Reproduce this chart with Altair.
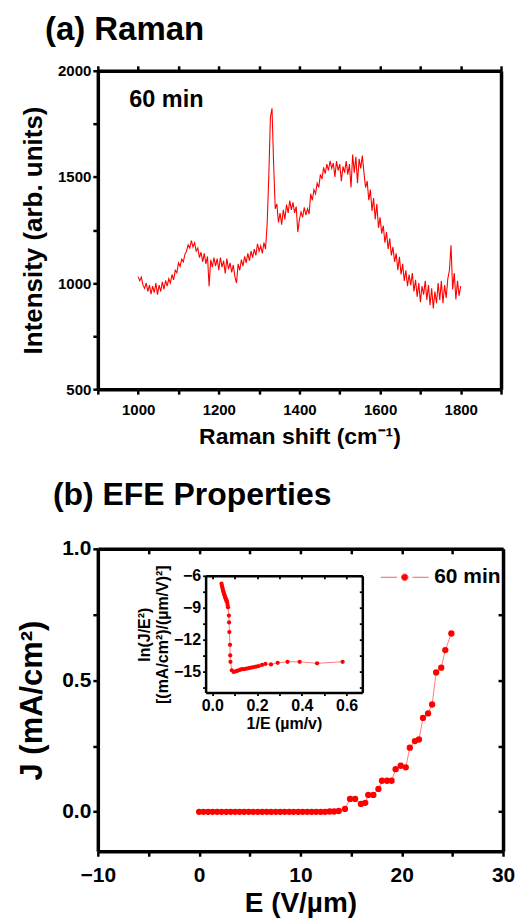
import altair as alt
import pandas as pd

FONT = "Liberation Sans"
RED = "#ff0000"
PINK = "#ff5a5a"

# ---------------- data: panel (a) Raman ----------------
raman_shift = list(range(1000, 1801, 4))
raman_intensity = [
    1030, 1010, 1028, 990, 975, 1000, 960, 990, 948, 985,
    955, 1000, 945, 990, 960, 1005, 970, 1012, 985, 1020,
    1000, 1040, 1015, 1060, 1048, 1095, 1078, 1112, 1100, 1135,
    1150, 1180, 1165, 1200, 1170, 1190, 1150, 1165, 1120, 1145,
    1100, 1140, 1090, 1125, 985, 1110, 1075, 1120, 1080, 1115,
    1060, 1120, 1075, 1105, 1045, 1115, 1065, 1095, 1050, 1085,
    1030, 1000, 1090, 1060, 1110, 1080, 1125, 1095, 1140, 1105,
    1150, 1120, 1160, 1130, 1185, 1150, 1175, 1140, 1190, 1160,
    1280, 1500, 1780, 1823, 1560, 1350, 1373, 1285, 1330, 1275,
    1345, 1300, 1370, 1330, 1388, 1345, 1380, 1330, 1360, 1240,
    1300, 1335, 1310, 1357, 1320, 1350, 1325, 1420, 1390, 1440,
    1420, 1470, 1450, 1512, 1490, 1545, 1515, 1560, 1530, 1575,
    1540, 1565, 1500, 1575, 1530, 1560, 1480, 1550, 1520, 1575,
    1510, 1560, 1450, 1605, 1520, 1595, 1470, 1585, 1540, 1600,
    1520, 1450, 1480, 1390, 1440, 1340, 1400, 1300, 1373, 1260,
    1310, 1233, 1270, 1190, 1240, 1160, 1210, 1130, 1170, 1100,
    1140, 1060, 1124, 1040, 1090, 1010, 1060, 985, 1040, 990,
    1047, 960, 1015, 935, 1000, 910, 985, 945, 1010, 920,
    990, 895, 975, 880, 960, 905, 1000, 920, 1010, 905,
    990, 930, 1020, 1060, 1178, 970, 1047, 922, 1010, 940,
    985,
]

# ---------------- data: panel (b) EFE ----------------
field_E = [
    0.0, 0.44, 0.89, 1.33, 1.78, 2.22, 2.67, 3.11, 3.56, 4.0,
    4.44, 4.89, 5.33, 5.78, 6.22, 6.67, 7.11, 7.56, 8.0, 8.44,
    8.89, 9.33, 9.78, 10.22, 10.67, 11.11, 11.56, 12.0, 12.44, 12.89,
    13.33, 13.78,
    14.4, 14.9, 15.4, 15.97, 16.4, 16.7, 17.2, 17.7, 18.05, 18.55,
    19.0, 19.4, 19.9, 20.4, 20.8, 21.3, 21.7, 22.1, 22.6, 23.0,
    23.4, 23.9, 24.3, 24.9,
]
current_J = [
    0.0, 0.0, 0.0, 0.0, 0.0, 0.0, 0.0, 0.0, 0.0, 0.0,
    0.0, 0.0, 0.0, 0.0, 0.0, 0.0, 0.0, 0.0, 0.0, 0.0,
    0.0, 0.0, 0.0, 0.0, 0.0, 0.0, 0.0, 0.0, 0.0, 0.001,
    0.001, 0.003,
    0.011, 0.049, 0.049, 0.030, 0.034, 0.064, 0.064, 0.087, 0.118, 0.118,
    0.118, 0.162, 0.175, 0.169, 0.244, 0.269, 0.275, 0.357, 0.374, 0.408,
    0.530, 0.548, 0.615, 0.678,
]

# inset: F-N plot
inv_E = [
    0.041, 0.043, 0.045, 0.047, 0.049, 0.051, 0.053, 0.055, 0.057, 0.059,
    0.061, 0.063, 0.065, 0.066, 0.068, 0.070, 0.074, 0.075, 0.076, 0.079,
    0.080, 0.081, 0.087, 0.095, 0.105, 0.111, 0.118, 0.125, 0.133, 0.141,
    0.152, 0.163, 0.174, 0.185, 0.196, 0.207, 0.222, 0.237, 0.262, 0.292,
    0.336, 0.390, 0.468, 0.582,
]
ln_JE2 = [
    -6.75, -6.95, -7.1, -7.3, -7.45, -7.6, -7.75, -7.85, -8.0, -8.1,
    -8.2, -8.3, -8.4, -8.5, -8.75, -8.97, -9.75, -10.4, -11.3, -12.5,
    -13.5, -14.1, -14.9, -15.06, -15.0, -14.95, -14.9, -14.85, -14.8, -14.8,
    -14.75, -14.7, -14.65, -14.6, -14.55, -14.5, -14.4, -14.3, -14.35, -14.2,
    -14.1, -14.1, -14.25, -14.1,
]

series_label = "60 min"

df_a = pd.DataFrame({"shift": raman_shift, "intensity": raman_intensity, "series": series_label})
df_b = pd.DataFrame({"E": field_E, "J": current_J, "series": series_label})
df_i = pd.DataFrame({"invE": inv_E, "lnJE2": ln_JE2})

AX = dict(domainColor="black", tickColor="black", labelFont=FONT, labelFontWeight="bold",
          labelColor="black", titleFont=FONT, titleFontWeight="bold", titleColor="black",
          grid=False, labelFlush=False, labelOverlap=False)
DW, TW = 3.5, 2.5

# ---------------- panel (a) ----------------
WA, HA = 404, 319
xa = alt.Scale(domain=[900, 1900], nice=False, zero=False)
ya = alt.Scale(domain=[500, 2000], nice=False, zero=False)
xa_vals = list(range(900, 1901, 100))
ya_vals = [500, 750, 1000, 1250, 1500, 1750, 2000]

a_line = alt.Chart(df_a).mark_line(strokeWidth=1.1).encode(
    x=alt.X("shift:Q", scale=xa, axis=alt.Axis(
        orient="bottom", values=xa_vals, format="d",
        labelExpr="(datum.value % 200 == 0 && datum.value >= 1000 && datum.value <= 1800) ? datum.label : ''",
        title="Raman shift (cm⁻¹)", labelFontSize=15, titleFontSize=23,
        domainWidth=DW, tickWidth=TW, tickSize=5, labelPadding=8, titlePadding=8, **AX)),
    y=alt.Y("intensity:Q", scale=ya, axis=alt.Axis(
        orient="left", values=ya_vals, format="d",
        labelExpr="datum.value % 500 == 0 ? datum.label : ''",
        title="Intensity (arb. units)", labelFontSize=15, titleFontSize=26,
        domainWidth=DW, tickWidth=TW, tickSize=5, labelPadding=2, titlePadding=11, **AX)),
    color=alt.Color("series:N", scale=alt.Scale(range=[RED]), legend=alt.Legend(
        orient="none", legendX=4, legendY=18, title=None, symbolOpacity=0, symbolSize=0,
        symbolStrokeWidth=0, labelFont=FONT, labelFontSize=23.5, labelFontWeight="bold",
        labelColor="black", labelOffset=4, padding=0)),
)

a_frame = alt.Chart(df_a).mark_line(opacity=0).encode(
    x=alt.X("shift:Q", scale=xa, axis=alt.Axis(
        orient="top", values=xa_vals, labels=False, title=None,
        domainWidth=DW, tickWidth=TW, tickSize=5, **AX)),
    y=alt.Y("intensity:Q", scale=ya, axis=alt.Axis(
        orient="right", values=ya_vals, labels=False, ticks=False, title=None,
        domainWidth=DW, **AX)),
)

panel_a = alt.layer(a_line, a_frame).resolve_scale(
    x="independent", y="independent").resolve_axis(
    x="independent", y="independent").properties(
    width=WA, height=HA,
    title=alt.TitleParams("(a) Raman", anchor="start", frame="group", dx=-53, offset=17,
                          fontSize=33, font=FONT, fontWeight="bold", color="black"))

# ---------------- panel (b) ----------------
WB, HB = 406, 303
xb = alt.Scale(domain=[-10, 30], nice=False, zero=False)
yb = alt.Scale(domain=[-0.15, 1.0], nice=False, zero=False)
xb_vals = list(range(-10, 31, 5))
yb_vals = [0.0, 0.25, 0.5, 0.75, 1.0]

# inset placement in pixels inside panel (b)
IX0, IX1, IY_BOT, IY_TOP = 108, 265, 144, 27
xi = alt.Scale(domain=[-0.03, 0.67], range=[IX0, IX1], nice=False, zero=False)
yi = alt.Scale(domain=[-17, -6], range=[IY_BOT, IY_TOP], nice=False, zero=False)
xi_vals = [0.0, 0.1, 0.2, 0.3, 0.4, 0.5, 0.6]
yi_vals = [-16.5, -15, -13.5, -12, -10.5, -9, -7.5, -6]

legend_symbol = ("M-1,0L-0.32,0M0.32,0L1,0"
                 "M-0.14,0A0.14,0.14,0,1,1,0.14,0A0.14,0.14,0,1,1,-0.14,0Z")

b_line = alt.Chart(df_b).mark_line(color=PINK, strokeWidth=0.8).encode(
    x=alt.X("E:Q", scale=xb, axis=alt.Axis(
        orient="bottom", offset=-HB, values=xb_vals, labels=False, title=None,
        domainWidth=DW, tickWidth=TW, tickSize=5, **AX)),
    y=alt.Y("J:Q", scale=yb, axis=alt.Axis(
        orient="left", offset=-WB, values=yb_vals, labels=False, title=None,
        domainWidth=DW, tickWidth=TW, tickSize=5, **AX)),
)

b_pts = alt.Chart(df_b).mark_circle(size=40, opacity=1).encode(
    x=alt.X("E:Q", scale=xb, axis=alt.Axis(
        orient="bottom", values=xb_vals, format="d",
        labelExpr="datum.value % 10 == 0 ? datum.label : ''",
        title="E (V/µm)", labelFontSize=21, titleFontSize=28,
        domainWidth=DW, tickWidth=TW, tickSize=5, labelPadding=8, titlePadding=4, **AX)),
    y=alt.Y("J:Q", scale=yb, axis=alt.Axis(
        orient="left", values=yb_vals, format=".1f",
        labelExpr="datum.value % 0.5 == 0 ? datum.label : ''",
        title="J (mA/cm²)", labelFontSize=21, titleFontSize=31,
        domainWidth=DW, tickWidth=TW, tickSize=5, labelPadding=2, titlePadding=13, **AX)),
    color=alt.Color("series:N", scale=alt.Scale(range=[RED]), legend=alt.Legend(
        orient="none", legendX=283, legendY=4, title=None, symbolType=legend_symbol,
        symbolSize=2300, symbolFillColor=RED, symbolStrokeColor=PINK, symbolStrokeWidth=1,
        labelFont=FONT, labelFontSize=21, labelFontWeight="bold", labelColor="black",
        labelOffset=5, padding=0)),
)

i_pts = alt.Chart(df_i).mark_circle(size=18, color=RED, opacity=1).encode(
    x=alt.X("invE:Q", scale=xi, axis=alt.Axis(
        orient="bottom", offset=-(HB - IY_BOT), values=xi_vals, format=".1f",
        labelExpr="round(datum.value * 10) % 2 == 0 ? datum.label : ''",
        title="1/E (µm/v)", labelFontSize=16, titleFontSize=16,
        domainWidth=2.5, tickWidth=1.8, tickSize=3, labelPadding=2, titlePadding=2, **AX)),
    y=alt.Y("lnJE2:Q", scale=yi, axis=alt.Axis(
        orient="left", offset=-IX0, values=yi_vals, format="d",
        labelExpr="datum.value % 3 == 0 ? datum.label : ''",
        title=["ln(J/E²)", "[(mA/cm²)/(µm/V)²]"], labelFontSize=16, titleFontSize=16,
        domainWidth=2.5, tickWidth=1.8, tickSize=3, labelPadding=2, titlePadding=3, **AX)),
)

i_line = alt.Chart(df_i).mark_line(color=PINK, strokeWidth=0.8).encode(
    x=alt.X("invE:Q", scale=xi, axis=alt.Axis(
        orient="bottom", offset=-(HB - IY_TOP), values=xi_vals, labels=False, title=None,
        domainWidth=2.5, tickWidth=1.8, tickSize=3, **AX)),
    y=alt.Y("lnJE2:Q", scale=yi, axis=alt.Axis(
        orient="left", offset=-IX1, values=yi_vals, labels=False, title=None,
        domainWidth=2.5, tickWidth=1.8, tickSize=3, **AX)),
)

panel_b = alt.layer(b_line, b_pts, i_line, i_pts).resolve_scale(
    x="independent", y="independent").resolve_axis(
    x="independent", y="independent").properties(
    width=WB, height=HB,
    title=alt.TitleParams("(b) EFE Properties", anchor="start", frame="group", dx=-45, offset=26,
                          fontSize=32, font=FONT, fontWeight="bold", color="black"))

chart = alt.vconcat(panel_a, panel_b, spacing=29).resolve_scale(
    color="independent").resolve_legend(color="independent").properties(
    padding={"left": 8, "top": 4, "right": 0, "bottom": 0}).configure_view(
    stroke=None).configure(font=FONT)

chart.save("out.html", embed_options={"renderer": "svg", "actions": False})
